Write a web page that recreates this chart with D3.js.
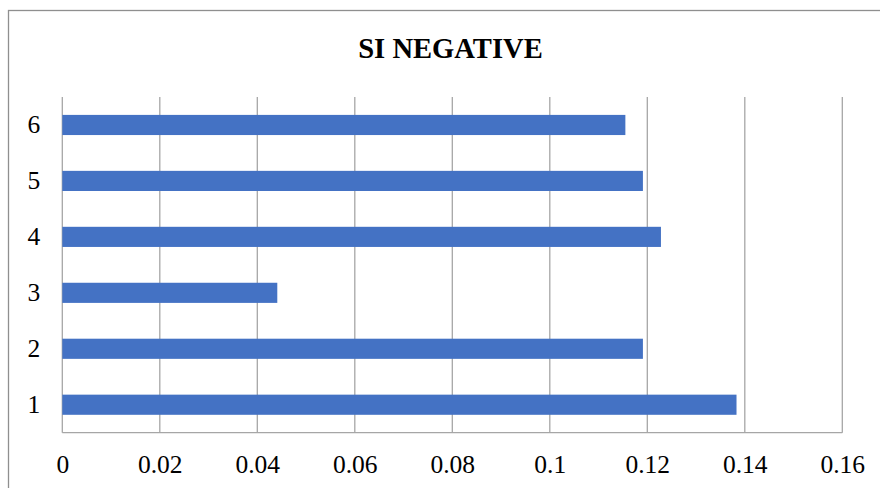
<!DOCTYPE html>
<html>
<head>
<meta charset="utf-8">
<script src="https://cdn.jsdelivr.net/npm/d3@7"></script>
<style>
  html, body { margin: 0; padding: 0; background: #fff; }
  svg { display: block; }
</style>
</head>
<body>
<svg id="chart" width="880" height="488"></svg>
<script>
// Chart data
const title = "SI NEGATIVE";
const categories = ["1", "2", "3", "4", "5", "6"];
const values = [0.1383, 0.1191, 0.0441, 0.1228, 0.1191, 0.1155];
const xTicks = [0, 0.02, 0.04, 0.06, 0.08, 0.1, 0.12, 0.14, 0.16];

const svg = d3.select("#chart");
const W = 880, H = 488;
const margin = { left: 62.3, right: 880 - 842.3, top: 97, bottom: 488 - 432.7 };
const serif = "'Liberation Serif', 'Times New Roman', serif";

// Outer chart frame (extends past the right and bottom edges)
svg.append("rect")
  .attr("x", 8.5).attr("y", 10.5)
  .attr("width", 1000).attr("height", 1000)
  .attr("fill", "none")
  .attr("stroke", "#8f8f8f")
  .attr("stroke-width", 1.3);

const x = d3.scaleLinear()
  .domain([0, 0.16])
  .range([margin.left, W - margin.right]);

const y = d3.scaleBand()
  .domain(categories.slice().reverse())
  .range([margin.top, H - margin.bottom])
  .paddingInner(0.64)
  .paddingOuter(0.32);

// Vertical gridlines
svg.append("g")
  .selectAll("line")
  .data(xTicks)
  .join("line")
  .attr("x1", d => x(d)).attr("x2", d => x(d))
  .attr("y1", margin.top).attr("y2", H - margin.bottom)
  .attr("stroke", "#a6a6a6")
  .attr("stroke-width", 1.3);

// Bottom axis baseline
svg.append("line")
  .attr("x1", x(0)).attr("x2", x(0.16))
  .attr("y1", H - margin.bottom).attr("y2", H - margin.bottom)
  .attr("stroke", "#a6a6a6")
  .attr("stroke-width", 1.3);

// Bars
svg.append("g")
  .selectAll("rect")
  .data(categories.map((c, i) => ({ c, v: values[i] })))
  .join("rect")
  .attr("x", x(0))
  .attr("y", d => y(d.c))
  .attr("width", d => x(d.v) - x(0))
  .attr("height", y.bandwidth())
  .attr("fill", "#4472C4");

// X axis tick labels
const xAxis = d3.axisBottom(x)
  .tickValues(xTicks)
  .tickSize(0)
  .tickPadding(0)
  .tickFormat(d => d3.format("")(+d.toFixed(2)));
const gx = svg.append("g")
  .attr("transform", `translate(0,${H - margin.bottom})`)
  .call(xAxis);
gx.select(".domain").remove();
gx.selectAll("text")
  .attr("dy", null)
  .attr("y", 40.5)
  .attr("font-family", serif)
  .attr("font-size", 25.5)
  .attr("fill", "#000");

// Y axis category labels
const yAxis = d3.axisLeft(y).tickSize(0).tickPadding(22);
const gy = svg.append("g")
  .attr("transform", `translate(${margin.left},0)`)
  .call(yAxis);
gy.select(".domain").remove();
gy.selectAll("text")
  .attr("font-family", serif)
  .attr("font-size", 25.5)
  .attr("fill", "#000");

// Title
svg.append("text")
  .attr("x", 450.5)
  .attr("y", 57.7)
  .attr("text-anchor", "middle")
  .attr("font-family", serif)
  .attr("font-weight", "bold")
  .attr("font-size", 28.6)
  .attr("fill", "#000")
  .text(title);
</script>
</body>
</html>
